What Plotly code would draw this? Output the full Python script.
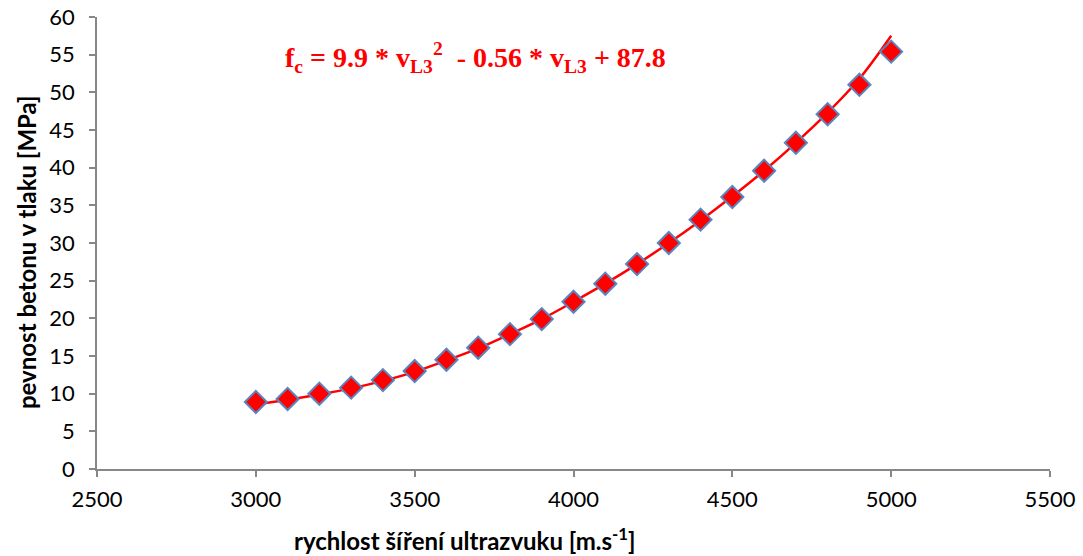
import plotly.graph_objects as go

velocity = [3000, 3100, 3200, 3300, 3400, 3500, 3600, 3700, 3800, 3900, 4000,
            4100, 4200, 4300, 4400, 4500, 4600, 4700, 4800, 4900, 5000]
strength = [8.9, 9.3, 10.0, 10.8, 11.8, 13.0, 14.5, 16.1, 17.9, 19.9, 22.2,
            24.6, 27.2, 30.0, 33.1, 36.1, 39.6, 43.3, 47.1, 51.0, 55.4]
trend = [8.6, 9.2, 9.9, 10.7, 11.7, 12.9, 14.4, 16.0, 17.9, 19.9, 22.2,
         24.6, 27.2, 30.0, 33.0, 36.2, 39.6, 43.3, 47.3, 51.8, 57.5]

x_ticks = [2500, 3000, 3500, 4000, 4500, 5000, 5500]
y_ticks = list(range(0, 61, 5))

font_fam = "Lato"

fig = go.Figure()
fig.add_trace(go.Scatter(
    x=velocity, y=trend, mode="lines", line=dict(color="#FF0000", width=2.5, shape="spline"),
    showlegend=False, hoverinfo="skip"))
fig.add_trace(go.Scatter(
    x=velocity, y=strength, mode="markers",
    marker=dict(symbol="diamond", size=17, color="#FF0000",
                line=dict(color="#5A86C0", width=2)),
    showlegend=False, hoverinfo="x+y"))

axis_common = dict(showgrid=False, zeroline=False, showline=True, linecolor="#878787",
                   linewidth=1.5, ticks="outside", ticklen=6, tickcolor="#878787",
                   tickwidth=1.5, automargin=False, ticklabeloverflow="allow",
                   tickfont=dict(family=font_fam, size=22, color="#000000"))

fig.update_xaxes(range=[2500, 5500], tickvals=x_ticks, ticklabelstandoff=4, **axis_common)
fig.update_yaxes(range=[0, 60], tickvals=y_ticks, ticklabelstandoff=10, **axis_common)

fig.add_annotation(xref="paper", yref="paper", x=0.386, y=-0.155, xanchor="center", yanchor="middle",
                   text="<b>rychlost šíření ultrazvuku [m.s<sup>-1</sup>]</b>", showarrow=False,
                   font=dict(family=font_fam, size=24, color="#000000"))
fig.add_annotation(xref="paper", x=-0.0, xshift=-71, yref="paper", y=0.48, textangle=-90,
                   xanchor="center", yanchor="middle",
                   text="<b>pevnost betonu v tlaku [MPa]</b>", showarrow=False,
                   font=dict(family=font_fam, size=24, color="#000000"))
fig.add_annotation(xref="paper", yref="paper", x=0.195, y=0.91, xanchor="left", yanchor="middle",
                   text="<b>f<sub>c</sub> = 9.9 * v<sub>L3</sub><sup>2</sup>  - 0.56 * v<sub>L3</sub> + 87.8</b>",
                   showarrow=False,
                   font=dict(family="Liberation Serif", size=28, color="#FF0000"))

fig.update_layout(width=1083, height=556, margin=dict(l=97, r=33, t=17, b=87),
                  plot_bgcolor="white", paper_bgcolor="white")

fig.write_html("out.html", config={"displayModeBar": False},
               post_script="document.body.style.margin='0px';")
